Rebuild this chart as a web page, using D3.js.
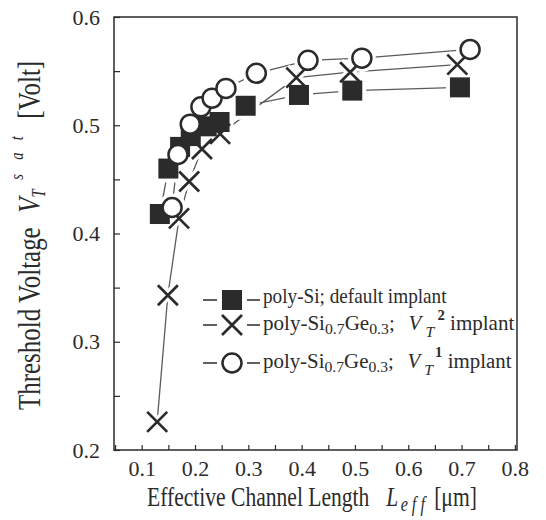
<!DOCTYPE html>
<html>
<head>
<meta charset="utf-8">
<script src="https://cdn.jsdelivr.net/npm/d3@7"></script>
<style>
body { margin: 0; background: #fff; }
svg { display: block; }
svg text { font-family: "Liberation Serif", "Times New Roman", Tinos, "DejaVu Serif", serif; }
</style>
</head>
<body>
<div id="container"></div>
<script>
// effective channel length [um] and saturation threshold voltage [V]
var lengthSi  = [0.134, 0.150, 0.172, 0.192, 0.222, 0.246, 0.295, 0.395, 0.495, 0.697];
var vtSi      = [0.418, 0.460, 0.480, 0.490, 0.499, 0.503, 0.518, 0.528, 0.532, 0.535];
var lengthGe2 = [0.129, 0.149, 0.170, 0.189, 0.213, 0.247, 0.390, 0.491, 0.692];
var vtGe2     = [0.226, 0.343, 0.414, 0.448, 0.478, 0.492, 0.544, 0.549, 0.556];
var lengthGe1 = [0.157, 0.168, 0.191, 0.211, 0.232, 0.258, 0.315, 0.412, 0.513, 0.716];
var vtGe1     = [0.424, 0.473, 0.501, 0.517, 0.525, 0.534, 0.548, 0.560, 0.562, 0.570];

var xTicks = [0.1, 0.2, 0.3, 0.4, 0.5, 0.6, 0.7, 0.8];
var xMinor = [0.05, 0.15, 0.25, 0.35, 0.45, 0.55, 0.65, 0.75];
var yTicks = [0.2, 0.3, 0.4, 0.5, 0.6];
var yMinor = [0.25, 0.35, 0.45, 0.55];

const ink = "#2b2b2b";
const lineColor = "#5a5a5a";

const x = d3.scaleLinear().domain([0.048, 0.804]).range([114, 517]);
const y = d3.scaleLinear().domain([0.2, 0.6]).range([450, 17]);

const svg = d3.select("#container")
    .append("svg")
        .attr("width", 546)
        .attr("height", 520);

// axes (ticks point inward)
function styleAxis(g) {
    g.attr("font-family", null).attr("font-size", null);
    g.select(".domain").remove();
    g.selectAll(".tick line").attr("stroke", ink).attr("stroke-width", 1.2);
    g.selectAll("text")
        .attr("font-size", 22)
        .attr("fill", ink);
}

function minorTicks(g) {
    g.select(".domain").remove();
    g.selectAll(".tick text").remove();
    g.selectAll(".tick line").attr("stroke", ink).attr("stroke-width", 1.2);
}

svg.append("g")
    .attr("transform", "translate(0," + y(0.2) + ")")
    .call(d3.axisBottom(x).tickValues(xTicks).tickFormat(d3.format(".1f"))
        .tickSizeInner(-5).tickSizeOuter(0).tickPadding(10))
    .call(styleAxis);
svg.append("g")
    .attr("transform", "translate(0," + y(0.2) + ")")
    .call(d3.axisBottom(x).tickValues(xMinor).tickSizeInner(-5).tickSizeOuter(0))
    .call(minorTicks);

svg.append("g")
    .attr("transform", "translate(" + x.range()[0] + ",0)")
    .call(d3.axisLeft(y).tickValues(yTicks).tickFormat(d3.format(".1f"))
        .tickSizeInner(-6).tickSizeOuter(0).tickPadding(14))
    .call(styleAxis);
svg.append("g")
    .attr("transform", "translate(" + x.range()[0] + ",0)")
    .call(d3.axisLeft(y).tickValues(yMinor).tickSizeInner(-6).tickSizeOuter(0))
    .call(minorTicks);

// frame
svg.append("rect")
    .attr("x", x.range()[0])
    .attr("y", y.range()[1])
    .attr("width", x.range()[1] - x.range()[0])
    .attr("height", y.range()[0] - y.range()[1])
    .attr("fill", "none")
    .attr("stroke", ink)
    .attr("stroke-width", 1.5);

// markers
function drawMarker(g, kind, halo) {
    if (kind == "square") {
        g.append("rect")
            .attr("x", -10).attr("y", -10).attr("width", 20).attr("height", 20)
            .attr("fill", halo ? "#fff" : ink)
            .attr("stroke", halo ? "#fff" : "none")
            .attr("stroke-width", 8);
    } else if (kind == "cross") {
        g.append("path")
            .attr("d", "M-10,-10L10,10M-10,10L10,-10")
            .attr("fill", "none")
            .attr("stroke", halo ? "#fff" : ink)
            .attr("stroke-width", halo ? 9 : 2.7);
    } else {
        g.append("circle")
            .attr("r", 9.5)
            .attr("fill", "#fff")
            .attr("stroke", halo ? "#fff" : ink)
            .attr("stroke-width", halo ? 9 : 2.5);
    }
}

const series = [
    {kind: "square", pts: d3.zip(lengthSi, vtSi)},
    {kind: "cross", pts: d3.zip(lengthGe2, vtGe2)},
    {kind: "circle", pts: d3.zip(lengthGe1, vtGe1)}
];

const line = d3.line().x(d => x(d[0])).y(d => y(d[1]));

svg.append("g")
    .selectAll("path")
    .data(series)
    .join("path")
        .attr("d", s => line(s.pts))
        .attr("fill", "none")
        .attr("stroke", lineColor)
        .attr("stroke-width", 1.3);

// white halos leave the small gap between line and symbol
[true, false].forEach(halo => {
    const layer = svg.append("g");
    series.forEach(s => {
        layer.append("g")
            .selectAll("g")
            .data(s.pts)
            .join("g")
                .attr("transform", d => "translate(" + x(d[0]) + "," + y(d[1]) + ")")
                .each(function() { drawMarker(d3.select(this), s.kind, halo); });
    });
});

// rich text helper: parts with optional shift (down +), size, italic, bold, dx
function richText(sel, parts) {
    let off = 0;
    parts.forEach(p => {
        const t = sel.append("tspan").text(p.t);
        const target = p.shift || 0;
        if (target - off != 0) t.attr("dy", target - off);
        off = target;
        if (p.size) t.attr("font-size", p.size);
        if (p.italic) t.attr("font-style", "italic");
        if (p.bold) t.attr("font-weight", "bold");
        if (p.dx) t.attr("dx", p.dx);
    });
}

// legend
const legendRows = [
    {kind: "square", y: 300, base: 303, width: 184,
     parts: [{t: "poly-Si; default implant"}]},
    {kind: "cross", y: 325, base: 330, width: 252,
     parts: [{t: "poly-Si"}, {t: "0.7", size: 15, shift: 4}, {t: "Ge"},
             {t: "0.3", size: 15, shift: 4}, {t: ";"},
             {t: "V", italic: true, dx: 13}, {t: "T", italic: true, size: 15, shift: 7, dx: 4},
             {t: "2", bold: true, size: 14, shift: -10, dx: 3}, {t: " implant"}]},
    {kind: "circle", y: 363, base: 368, width: 249,
     parts: [{t: "poly-Si"}, {t: "0.7", size: 15, shift: 4}, {t: "Ge"},
             {t: "0.3", size: 15, shift: 4}, {t: ";"},
             {t: "V", italic: true, dx: 13}, {t: "T", italic: true, size: 15, shift: 7, dx: 4},
             {t: "1", bold: true, size: 14, shift: -11, dx: 2}, {t: " implant"}]}
];

legendRows.forEach(r => {
    const g = svg.append("g");
    g.append("line").attr("x1", 203).attr("x2", 217).attr("y1", r.y).attr("y2", r.y)
        .attr("stroke", ink).attr("stroke-width", 1.5);
    g.append("line").attr("x1", 247).attr("x2", 260).attr("y1", r.y).attr("y2", r.y)
        .attr("stroke", ink).attr("stroke-width", 1.5);
    drawMarker(g.append("g").attr("transform", "translate(232," + r.y + ")"), r.kind, false);

    const tg = g.append("g");
    const txt = tg.append("text").attr("font-size", 20).attr("fill", ink);
    richText(txt, r.parts);
    const w = txt.node().getBBox().width;
    tg.attr("transform", "translate(263," + r.base + ") scale(" + (r.width / w) + ",1)");
});

// axis titles: built from tspans, squeezed horizontally like the scan
function titleText(g, parts, width, size) {
    const txt = g.append("text").attr("font-size", size).attr("fill", ink);
    richText(txt, parts);
    const w = txt.node().getBBox().width;
    txt.attr("transform", "scale(" + (width / w) + ",1)");
}

const xTitle = svg.append("g").attr("transform", "translate(147,506)");
titleText(xTitle, [
    {t: "Effective Channel Length"},
    {t: "L", italic: true, dx: 22},
    {t: "e f f", italic: true, size: 21, shift: 5, dx: 3},
    {t: "[\u03bcm]", dx: 12}
], 330, 28);

const yTitle = svg.append("g").attr("transform", "translate(40,410) rotate(-90)");
titleText(yTitle, [
    {t: "Threshold Voltage"},
    {t: "V", italic: true, dx: 18},
    {t: "T", italic: true, size: 18, shift: 5},
    {t: "s", italic: true, size: 18, shift: -17, dx: 12},
    {t: "a", italic: true, size: 18, shift: -17, dx: 18},
    {t: "t", italic: true, size: 18, shift: -17, dx: 15},
    {t: "[Volt]", dx: 22}
], 348, 31);
</script>
</body>
</html>
